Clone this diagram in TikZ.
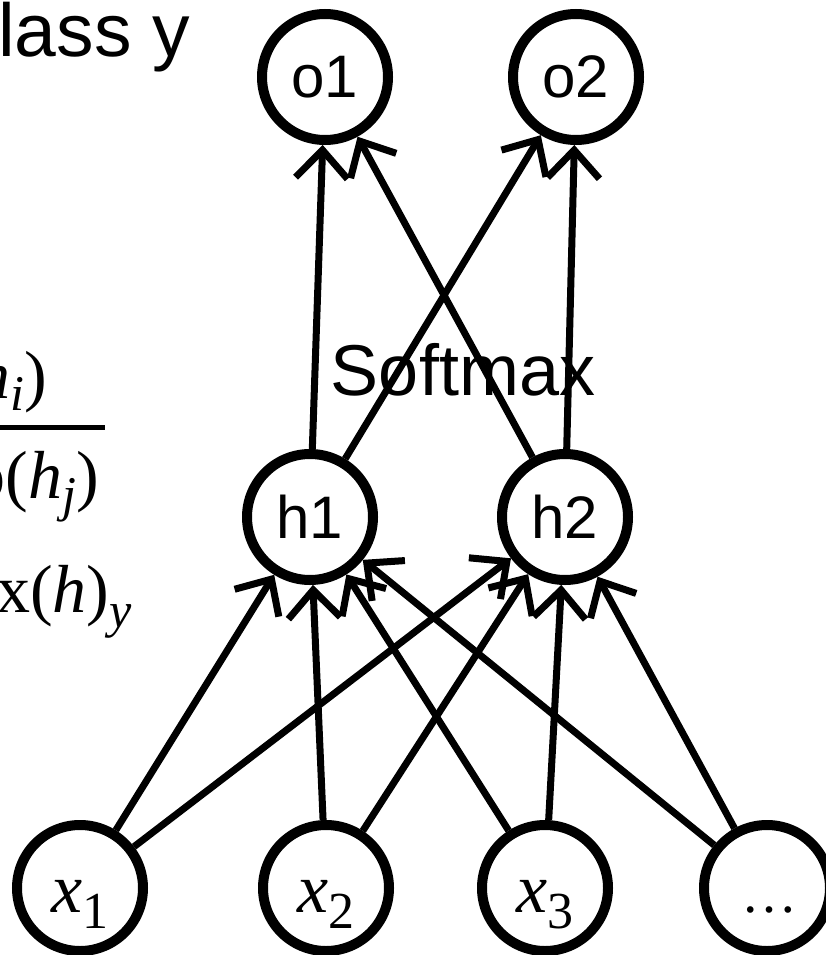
\documentclass[tikz,border=0pt]{standalone}
\usepackage{fontspec}
\setmainfont{Liberation Sans}
\newfontfamily\tms{Liberation Serif}
\usetikzlibrary{arrows.meta}
\newcommand\sbs[2]{\raisebox{-#1}{\fontsize{50}{50}\selectfont\itshape #2}}
\begin{document}
\begin{tikzpicture}[x=1pt,y=-1pt,
  neuron/.style={circle,draw,line width=10pt,minimum size=126pt,inner sep=0pt,font=\fontsize{60}{60}\selectfont},
  xneuron/.style={neuron,font=\tms\fontsize{70}{70}\selectfont,text height=64pt,text depth=16pt},
  dotneuron/.style={neuron,font=\tms\fontsize{56}{56}\selectfont,text height=48pt,text depth=0pt},
  link/.style={line width=7pt,-{Straight Barb[length=28pt,width=52pt,sharp]}},
  formula/.style={font=\tms\fontsize{68}{68}\selectfont,inner sep=0pt,anchor=base east},
  bigtext/.style={inner sep=0pt}
]
\path[use as bounding box] (0,0) rectangle (826,955);
\clip (0,0) rectangle (826,955);

% left-hand text (cropped by the picture edge)
\node[bigtext,font=\fontsize{75}{75}\selectfont,anchor=base west] (cls) at (-2,57) {lass y};
\node[formula] (num) at (47,398) {exp(\textit{h}\sbs{12pt}{i})};
\coordinate (fl) at (-20,427);
\coordinate (fr) at (105,427);
\draw[line width=5pt] (fl) -- (fr);
\node[formula] (den) at (99,498) {\(\sum\)exp(\textit{h}\sbs{13pt}{j})};
\node[formula] (sm) at (132,612) {softmax(\textit{h})\sbs{15pt}{y}};

% neurons
\node[neuron] (o1) at (325,77) {o1};
\node[neuron] (o2) at (576,77) {o2};
\node[neuron] (h1) at (310,517) {h1};
\node[neuron] (h2) at (565,517) {h2};
\node[xneuron] (x1) at (80,888) {\textit{x}\raisebox{-16pt}{\fontsize{52}{52}\selectfont 1}};
\node[xneuron] (x2) at (326,888) {\textit{x}\raisebox{-16pt}{\fontsize{52}{52}\selectfont 2}};
\node[xneuron] (x3) at (545,888) {\textit{x}\raisebox{-16pt}{\fontsize{52}{52}\selectfont 3}};
\node[dotneuron] (xd) at (767,888) {\hspace{4pt}…};

\node[bigtext,font=\fontsize{72}{72}\selectfont,anchor=base] (soft) at (463,395) {Softmax};

% connections
\draw[link] (h1) -- (o1);
\draw[link] (h1) -- (o2);
\draw[link] (h2) -- (o1);
\draw[link] (h2) -- (o2);
\foreach \s in {x1,x2,x3,xd}{
  \draw[link] (\s) -- (h1);
  \draw[link] (\s) -- (h2);
}
\end{tikzpicture}
\end{document}
